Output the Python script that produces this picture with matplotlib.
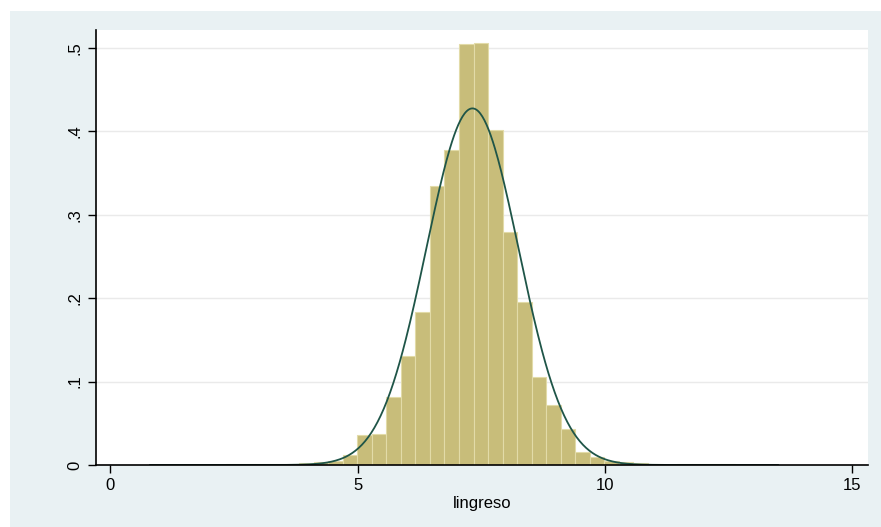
import numpy as np
import matplotlib.pyplot as plt

plt.rcParams['font.family'] = ['Liberation Sans', 'DejaVu Sans']

# histogram of lingreso (density), bins
bin_start = 0.874
bin_width = 0.294
density = [0.0005, 0.0005, 0.0005, 0.0005, 0.0005, 0.0007, 0.0007, 0.001, 0.001, 0.0015,
           0.002, 0.003, 0.005, 0.012, 0.036, 0.037, 0.082, 0.131, 0.184, 0.334,
           0.378, 0.505, 0.506, 0.402, 0.279, 0.195, 0.105, 0.072, 0.043, 0.016,
           0.010, 0.005, 0.003, 0.002, 0.001, 0.0005, 0.0007, 0.0015, 0.0015, 0.0007,
           0.0005]

# normal overlay parameters
mu = 7.32
sigma = 0.933

xticks = [0, 5, 10, 15]
yticks = [0, 0.1, 0.2, 0.3, 0.4, 0.5]
ytick_labels = ['0', '.1', '.2', '.3', '.4', '.5']

outer_bg = '#e9f1f3'
bar_color = '#c8bd7a'
line_color = '#1f5548'

fig = plt.figure(figsize=(8.81, 5.27), dpi=100)
fig.patch.set_facecolor('white')

# stata style light grey graph region, behind the plot
bg = fig.add_axes([10 / 881, 0, 1 - 10 / 881, 1 - 11 / 527], zorder=0)
bg.set_facecolor(outer_bg)
bg.set_xticks([])
bg.set_yticks([])
for s in bg.spines.values():
    s.set_visible(False)

ax = fig.add_axes([96 / 881, 1 - 465 / 527, (868 - 96) / 881, (465 - 30) / 527], zorder=1)
ax.set_facecolor('white')

lefts = bin_start + bin_width * np.arange(len(density))
ax.bar(lefts, density, width=bin_width, align='edge', color=bar_color,
       edgecolor='#e2dba8', linewidth=0.8, zorder=2)

xs = np.linspace(0.8, 13.5, 600)
ys = np.exp(-0.5 * ((xs - mu) / sigma) ** 2) / (sigma * np.sqrt(2 * np.pi))
ax.plot(xs, ys, color=line_color, linewidth=1.3, zorder=3)

ax.set_xlim(-0.293, 15.32)
ax.set_ylim(0, 0.5216)
ax.set_xticks(xticks)
ax.set_yticks(yticks)
ax.set_yticklabels(ytick_labels, rotation=90, va='center')
ax.tick_params(direction='out', length=6, width=1, labelsize=12, colors='black')
ax.grid(axis='y', color='#eaeaea', linewidth=1, zorder=1)
ax.set_axisbelow(True)

for s in ['top', 'right']:
    ax.spines[s].set_visible(False)
for s in ['left', 'bottom']:
    ax.spines[s].set_linewidth(1.2)
    ax.spines[s].set_zorder(4)

ax.set_xlabel('lingreso', fontsize=12, labelpad=2)

fig.savefig('out.png', dpi=100, facecolor=fig.get_facecolor())
